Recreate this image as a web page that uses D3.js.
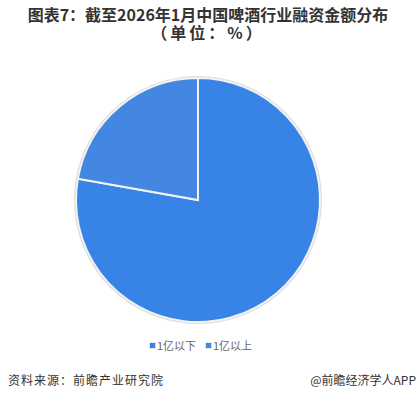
<!DOCTYPE html>
<html>
<head>
<meta charset="utf-8">
<script src="https://cdn.jsdelivr.net/npm/d3@7"></script>
<style>
  body { margin: 0; background: #fff; }
  text { font-family: "Noto Sans CJK SC", "Noto Sans", sans-serif; }
</style>
</head>
<body>
<svg id="chart" width="417" height="400"></svg>
<script>
// data
var categories = ["1亿以下", "1亿以上"];
var shares = [77.8, 22.2];
var sliceColors = ["#3784e6", "#4387e2"];
var titleLines = ["图表7：截至2026年1月中国啤酒行业融资金额分布", "（单位：%）"];
var sourceText = "资料来源：前瞻产业研究院";
var brandText = "@前瞻经济学人APP";

var width = 417, height = 400;
var svg = d3.select("#chart");

// title
svg.selectAll(".title")
    .data(titleLines)
  .enter().append("text")
    .attr("class", "title")
    .attr("x", 208)
    .attr("y", function(d, i) { return 21 + i * 18; })
    .attr("text-anchor", "middle")
    .style("font-size", "16px")
    .style("font-weight", "bold")
    .style("fill", "#333")
    .style("letter-spacing", function(d, i) { return i ? "3px" : "0px"; })
    .text(function(d) { return d; });

// pie
var cx = 198, cy = 200, r = 122;
var pie = d3.pie().sort(null).value(function(d) { return d; });
var arc = d3.arc().innerRadius(0).outerRadius(r);
var arcs = pie(shares);

var g = svg.append("g")
    .attr("transform", "translate(" + cx + "," + cy + ")");

// soft outline round the pie
g.append("circle")
    .attr("r", r + 1)
    .style("fill", "none")
    .style("stroke", "#dcdcdc")
    .style("stroke-width", 2);

g.selectAll(".slice")
    .data(arcs)
  .enter().append("path")
    .attr("class", "slice")
    .attr("d", arc)
    .style("fill", function(d, i) { return sliceColors[i]; })
    .style("stroke", "#f2f2f2")
    .style("stroke-width", 2)
    .style("stroke-linejoin", "miter");

// legend
var legend = svg.append("g").attr("transform", "translate(150,347)");
var item = legend.selectAll(".item")
    .data(categories)
  .enter().append("g")
    .attr("class", "item")
    .attr("transform", function(d, i) { return "translate(" + (i * 56) + ",0)"; });

item.append("rect")
    .attr("x", -1).attr("y", -5)
    .attr("width", 7).attr("height", 7)
    .style("fill", "#e4e4e4");
item.append("rect")
    .attr("x", 0).attr("y", -4)
    .attr("width", 5).attr("height", 5)
    .style("fill", function(d, i) { return sliceColors[i]; });
item.append("text")
    .attr("x", 7)
    .attr("y", 3)
    .style("font-size", "11px")
    .style("fill", "#666")
    .text(function(d) { return d; });

// footer
svg.append("text")
    .attr("x", 8)
    .attr("y", 385)
    .style("font-size", "12px")
    .style("fill", "#333")
    .style("letter-spacing", "1px")
    .text(sourceText);

svg.append("text")
    .attr("x", 416)
    .attr("y", 385)
    .attr("text-anchor", "end")
    .style("font-size", "12px")
    .style("fill", "#333")
    .text(brandText);
</script>
</body>
</html>
